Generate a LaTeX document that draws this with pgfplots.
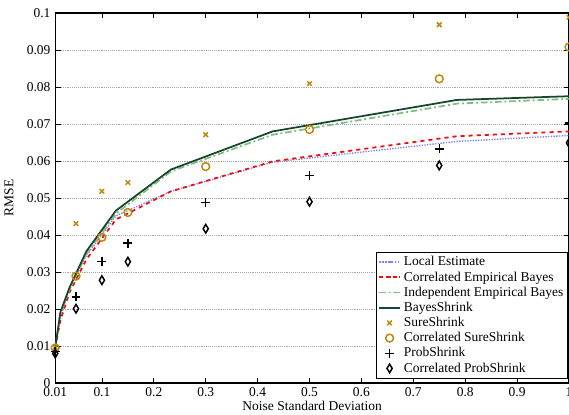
\documentclass[border=0pt]{standalone}
\usepackage{pgfplots}
\pgfplotsset{compat=1.18}
\usepackage{fontspec}
\setmainfont{Liberation Serif}
\definecolor{gold}{rgb}{0.75,0.53,0.05}
\definecolor{lblue}{rgb}{0.55,0.55,1}
\definecolor{lgreen}{rgb}{0.5,0.75,0.5}
\definecolor{dgreen}{rgb}{0.1,0.27,0.18}
\definecolor{pred}{rgb}{0.95,0.05,0.05}
\begin{document}
\begin{tikzpicture}[trim axis right]
\begin{axis}[
  scale only axis,
  width=381pt, height=274.5pt,
  xmin=0.01, xmax=1, ymin=0, ymax=0.1,
  xtick={0.01,0.1,0.2,0.3,0.4,0.5,0.6,0.7,0.8,0.9,1},
  xticklabels={0.01,0.1,0.2,0.3,0.4,0.5,0.6,0.7,0.8,0.9,1},
  ytick={0,0.01,0.02,0.03,0.04,0.05,0.06,0.07,0.08,0.09,0.1},
  yticklabels={0,0.01,0.02,0.03,0.04,0.05,0.06,0.07,0.08,0.09,0.1},
  tick align=inside, major tick length=4pt,
  axis line style={line width=1pt},
  tick style={black, line width=0.6pt},
  ymajorgrids, grid style={densely dotted, gray!70, line width=0.5pt},
  xlabel={Noise Standard Deviation}, ylabel={RMSE},
  xlabel style={yshift=4pt}, ylabel style={yshift=3pt},
  legend cell align=left,
  legend style={at={(0.998,0.012)}, anchor=south east, draw=black, line width=0.8pt,
    font=\normalsize, inner sep=1pt, row sep=-1.2pt},
  legend image code/.code={\draw[mark repeat=2,mark phase=2,#1] plot coordinates {(0cm,0cm)(0.275cm,0cm)(0.55cm,0cm)};},
]
\addlegendimage{blue!50, densely dotted, line width=1.3pt}
\addlegendimage{draw=pred, color=pred, dash pattern=on 3pt off 2pt, line width=1.5pt}
\addlegendimage{lgreen, dash pattern=on 5pt off 2pt on 1.5pt off 2pt, line width=1.3pt}
\addlegendimage{dgreen, solid, line width=1.3pt}
\addlegendimage{only marks, gold, mark=x, mark size=2.4pt, mark options={line width=1.1pt}}
\addlegendimage{only marks, gold, mark=o, mark size=2.9pt, mark options={line width=1.1pt}}
\addlegendimage{only marks, black, mark=+, mark size=3.3pt, mark options={line width=1.1pt}}
\addlegendimage{only marks, black, mark=diamond, mark size=3.2pt, mark options={line width=1.1pt, xscale=0.8}}
\addplot[forget plot, blue!50, densely dotted, line width=1pt] coordinates {
(0.01,0.0095)(0.02,0.0175)(0.0375,0.0258)(0.07,0.0345)(0.127,0.0452)(0.233,0.0518)(0.429,0.0597)(0.784,0.0653)(1,0.0669)};
\addplot[forget plot, pred, dashed, line width=1.3pt] coordinates {
(0.01,0.0095)(0.02,0.017)(0.0375,0.0245)(0.07,0.0334)(0.127,0.0442)(0.233,0.0518)(0.429,0.0599)(0.784,0.0667)(1,0.068)};
\addplot[forget plot, lgreen, dash pattern=on 5pt off 2pt on 1.5pt off 2pt, line width=1.3pt] coordinates {
(0.01,0.0095)(0.02,0.0188)(0.0375,0.0253)(0.07,0.0348)(0.127,0.0458)(0.233,0.0572)(0.429,0.0671)(0.784,0.0755)(1,0.0768)};
\addplot[forget plot, dgreen, solid, line width=1.3pt] coordinates {
(0.01,0.0095)(0.02,0.0192)(0.0375,0.0258)(0.07,0.0356)(0.127,0.0466)(0.233,0.0577)(0.429,0.068)(0.784,0.0765)(1,0.0775)};
\addplot[forget plot, only marks, gold, mark=x, mark size=2.4pt, mark options={line width=1.1pt}] coordinates {
(0.01,0.0097)(0.05,0.0431)(0.1,0.0518)(0.15,0.0542)(0.3,0.0671)(0.5,0.0809)(0.75,0.0968)(1,0.0988)};
\addplot[forget plot, only marks, gold, mark=o, mark size=2.9pt, mark options={line width=1.1pt}] coordinates {
(0.01,0.0095)(0.05,0.0289)(0.1,0.0394)(0.15,0.0461)(0.3,0.0585)(0.5,0.0685)(0.75,0.0822)(1,0.0908)};
\addplot[forget plot, only marks, black, mark=+, mark size=3.3pt, mark options={line width=1.1pt}] coordinates {
(0.01,0.0085)(0.05,0.0233)(0.1,0.0328)(0.15,0.0378)(0.3,0.0488)(0.5,0.0561)(0.75,0.0633)(1,0.0703)};
\addplot[forget plot, only marks, black, mark=diamond, mark size=3.2pt, mark options={line width=1.1pt, xscale=0.8}] coordinates {
(0.01,0.008)(0.05,0.0201)(0.1,0.0278)(0.15,0.0328)(0.3,0.0417)(0.5,0.049)(0.75,0.0588)(1,0.0649)};
\legend{Local Estimate,Correlated Empirical Bayes,Independent Empirical Bayes,BayesShrink,SureShrink,Correlated SureShrink,ProbShrink,Correlated ProbShrink}
\end{axis}
\path ([yshift=9.6pt]current axis.north west);
\end{tikzpicture}
\end{document}
